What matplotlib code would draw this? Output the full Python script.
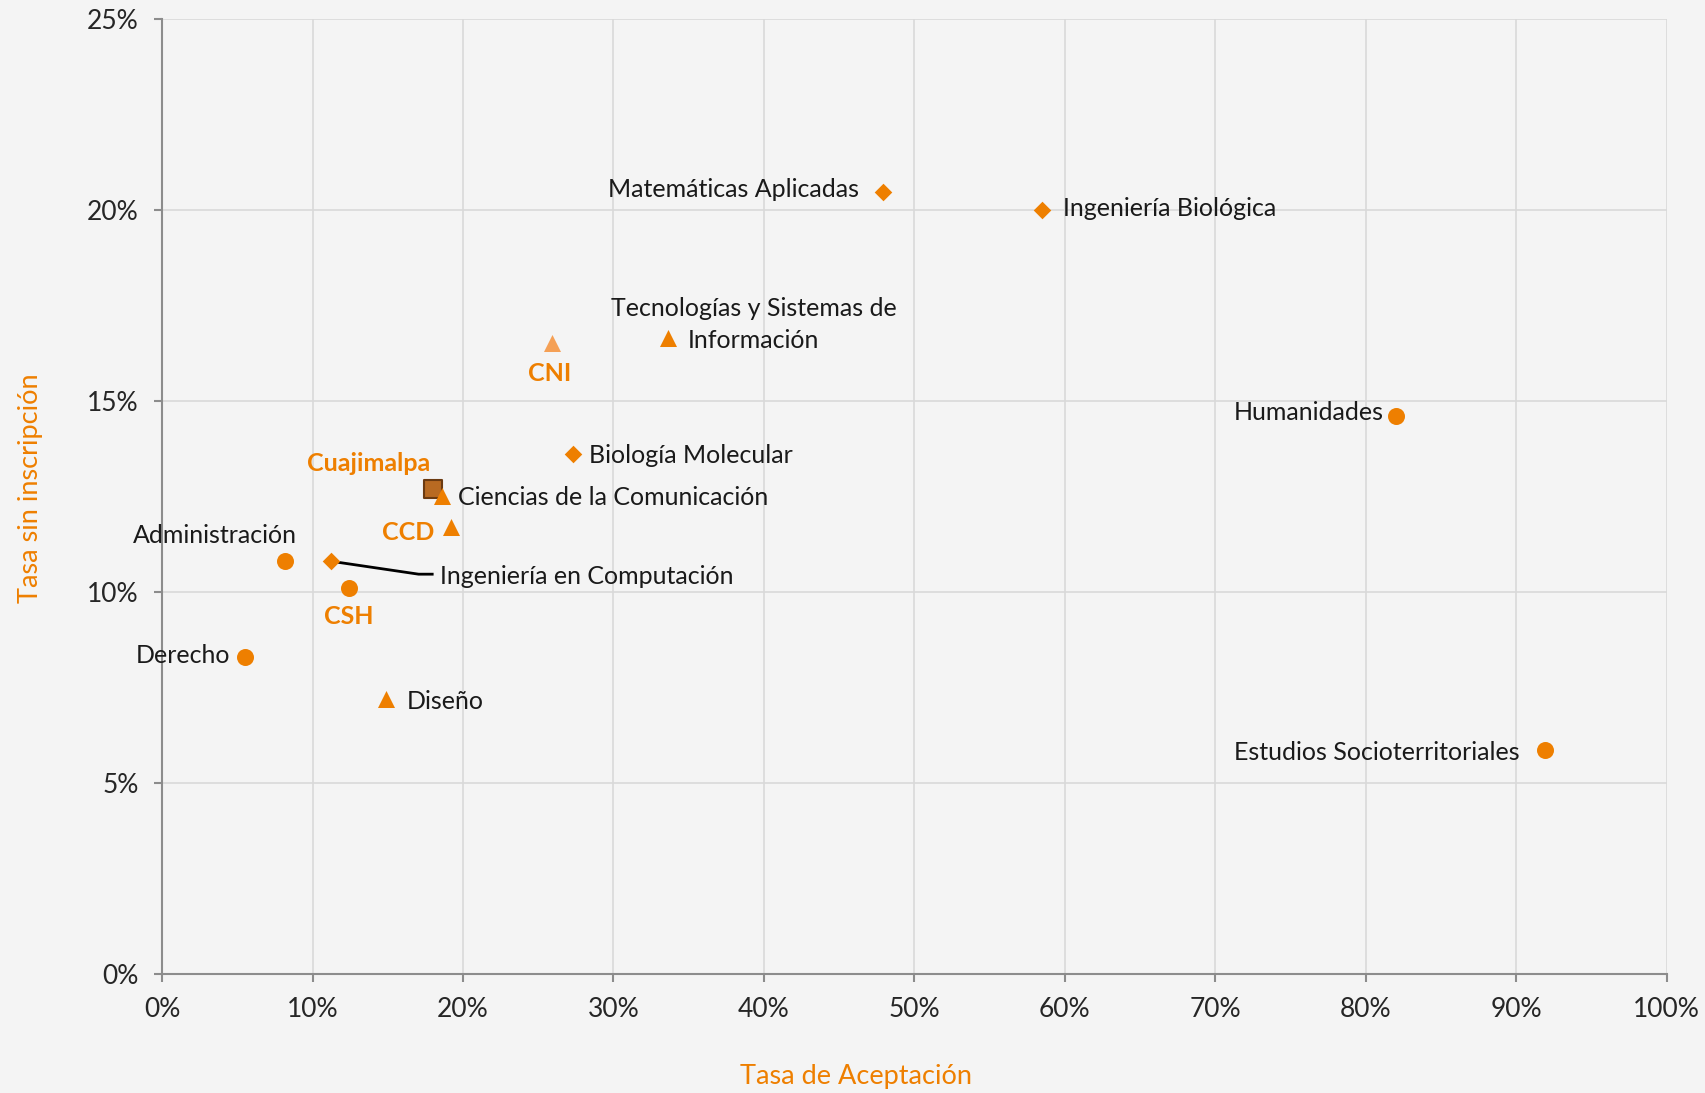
import matplotlib
matplotlib.use("Agg")
import matplotlib.pyplot as plt
from matplotlib.ticker import PercentFormatter
from matplotlib.transforms import IdentityTransform

plt.rcParams['font.family'] = ['Lato', 'DejaVu Sans']

# ---- data (fractions) ----
csh_names = ["Administración", "Derecho", "Humanidades", "Estudios Socioterritoriales"]
csh_x = [0.082, 0.055, 0.820, 0.919]
csh_y = [0.108, 0.083, 0.146, 0.0585]

cni_names = ["Matemáticas Aplicadas", "Ingeniería Biológica", "Biología Molecular", "Ingeniería en Computación"]
cni_x = [0.479, 0.585, 0.273, 0.112]
cni_y = [0.2046, 0.200, 0.136, 0.108]

ccd_names = ["Tecnologías y Sistemas de\nInformación", "Ciencias de la Comunicación", "Diseño"]
ccd_x = [0.336, 0.186, 0.149]
ccd_y = [0.1665, 0.125, 0.072]

div_names = ["CSH", "CNI", "CCD"]
div_x = [0.124, 0.259, 0.192]
div_y = [0.101, 0.165, 0.117]

unit_name = "Cuajimalpa"
unit_x = [0.180]
unit_y = [0.127]

x_ticks = [0, 0.1, 0.2, 0.3, 0.4, 0.5, 0.6, 0.7, 0.8, 0.9, 1.0]
y_ticks = [0, 0.05, 0.10, 0.15, 0.20, 0.25]

ORANGE = "#EE7F00"
LIGHT_OR = "#F5A055"
BG = "#F4F4F4"

fig = plt.figure(figsize=(17.06, 10.93), dpi=100, facecolor=BG)
ax = fig.add_axes([0.095, 0.109, 0.882, 0.874])
ax.set_facecolor(BG)

ax.set_xlim(0, 1)
ax.set_ylim(0, 0.25)
ax.set_xticks(x_ticks)
ax.set_yticks(y_ticks)
ax.xaxis.set_major_formatter(PercentFormatter(1.0, decimals=0))
ax.yaxis.set_major_formatter(PercentFormatter(1.0, decimals=0))
ax.grid(True, color="#D9D9D9", lw=1.2, zorder=0)
ax.set_axisbelow(True)
for s in ["top", "right"]:
    ax.spines[s].set_visible(False)
for s in ["left", "bottom"]:
    ax.spines[s].set_color("#8C8C8C")
    ax.spines[s].set_linewidth(1.5)
ax.tick_params(axis="both", direction="out", length=6, width=1.5, color="#8C8C8C",
               labelsize=19, labelcolor="#262626")
ax.tick_params(axis="x", pad=11)
ax.tick_params(axis="y", pad=11)

ax.scatter(csh_x, csh_y, marker="o", s=150, color=ORANGE, zorder=3, linewidths=0)
ax.scatter(cni_x, cni_y, marker="D", s=80, color=ORANGE, zorder=3, linewidths=0)
ax.scatter(ccd_x, ccd_y, marker="^", s=150, color=ORANGE, zorder=3, linewidths=0)
ax.scatter(div_x[0:1], div_y[0:1], marker="o", s=150, color=ORANGE, zorder=3, linewidths=0)
ax.scatter(div_x[1:2], div_y[1:2], marker="^", s=150, color=LIGHT_OR, zorder=3, linewidths=0)
ax.scatter(div_x[2:3], div_y[2:3], marker="^", s=150, color=ORANGE, zorder=3, linewidths=0)
ax.scatter(unit_x, unit_y, marker="s", s=150, color="#B86A22", edgecolors="#6B3A10",
           linewidths=1.5, zorder=2.5)

lab_kw = dict(textcoords="offset pixels", fontsize=18, color="#1A1A1A", va="center")

# offsets in pixels (dx, dy, ha)
csh_off = [(-71, 26, "center"), (-15, 1, "right"), (-12, 3, "right"), (-25, -2, "right")]
cni_off = [(-24, 3, "right"), (21, 1, "left"), (16, -1, "left"), (109, -15, "left")]
ccd_off = [(86, 13, "center"), (16, -1, "left"), (20, -3, "left")]

for n, x, y, (dx, dy, ha) in zip(csh_names, csh_x, csh_y, csh_off):
    ax.annotate(n, (x, y), xytext=(dx, dy), ha=ha, **lab_kw)
for n, x, y, (dx, dy, ha) in zip(cni_names, cni_x, cni_y, cni_off):
    ax.annotate(n, (x, y), xytext=(dx, dy), ha=ha, **lab_kw)
for n, x, y, (dx, dy, ha) in zip(ccd_names, ccd_x, ccd_y, ccd_off):
    ax.annotate(n, (x, y), xytext=(dx, dy), ha=ha, multialignment="center",
                linespacing=1.45, **lab_kw)

# leader line for "Ingeniería en Computación"
px, py = ax.transData.transform((cni_x[3], cni_y[3]))
lead_dx = [0, 88, 103]
lead_dy = [0, -13, -13]
ax.plot([px + d for d in lead_dx], [py + d for d in lead_dy], color="black", lw=2,
        transform=IdentityTransform(), zorder=2.8, solid_capstyle="butt")

div_off = [(0, -29, "center"), (-2, -30, "center"), (-17, -6, "right")]
bold_kw = dict(textcoords="offset pixels", fontsize=18, color=ORANGE, va="center",
               fontweight="bold")
for n, x, y, (dx, dy, ha) in zip(div_names, div_x, div_y, div_off):
    ax.annotate(n, (x, y), xytext=(dx, dy), ha=ha, **bold_kw)
ax.annotate(unit_name, (unit_x[0], unit_y[0]), xytext=(-64, 25), ha="center", **bold_kw)

fig.text(0.502, 0.0155, "Tasa de Aceptación", color=ORANGE, fontsize=19.5,
         ha="center", va="center")
fig.text(0.018, 0.553, "Tasa sin inscripción", color=ORANGE, fontsize=19.5,
         ha="center", va="center", rotation=90)

fig.savefig("out.png", dpi=100, facecolor=BG)
